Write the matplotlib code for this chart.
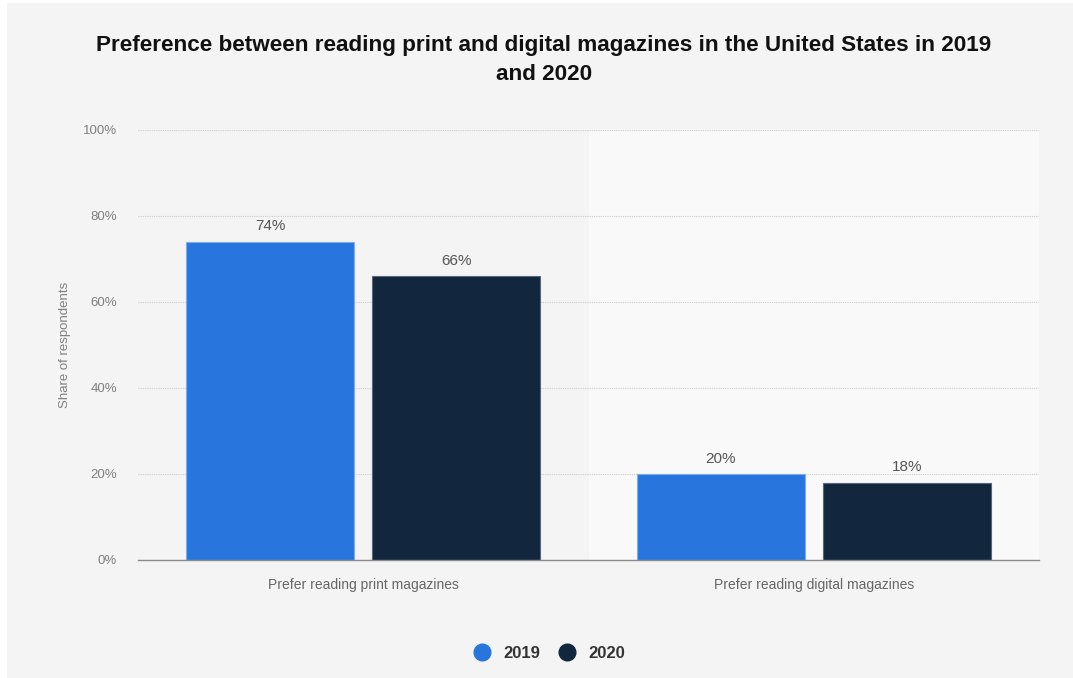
import matplotlib
matplotlib.use("Agg")
import matplotlib.pyplot as plt
from matplotlib.lines import Line2D
from matplotlib.patches import Rectangle
import numpy as np

plt.rcParams['font.family'] = ['Liberation Sans', 'DejaVu Sans']

categories = ["Prefer reading print magazines", "Prefer reading digital magazines"]
years = ["2019", "2020"]
share_2019 = [74, 20]
share_2020 = [66, 18]
y_ticks = [0, 20, 40, 60, 80, 100]

colors = {"2019": "#2775dd", "2020": "#12263d"}
edge_colors = {"2019": "#7eaef0", "2020": "#56677a"}
bg = "#f4f4f4"

W, H = 1073, 678
fig = plt.figure(figsize=(W / 100, H / 100), dpi=100)
fig.patch.set_facecolor("white")
fig.patches.append(Rectangle((7 / W, 0), 1 - 7 / W, 1 - 3 / H,
                             transform=fig.transFigure, facecolor=bg,
                             edgecolor="none", zorder=-10))

ax = fig.add_axes([138 / W, 118 / H, 901 / W, 430 / H])
ax.set_facecolor(bg)

x = np.arange(len(categories))
bar_w = 0.373
gap = 0.04
offsets = {"2019": -(bar_w / 2 + gap / 2), "2020": bar_w / 2 + gap / 2}
series = {"2019": share_2019, "2020": share_2020}

# lighter band behind the second category
ax.axvspan(0.5, 1.5, facecolor="#f9f9f9", edgecolor="none", zorder=0)

for yr in years:
    bars = ax.bar(x + offsets[yr], series[yr], width=bar_w, color=colors[yr],
                  edgecolor=edge_colors[yr], linewidth=0.8, zorder=3)
    for rect, v in zip(bars, series[yr]):
        ax.annotate(f"{v}%", (rect.get_x() + rect.get_width() / 2, v),
                    xytext=(0, 6), textcoords="offset points",
                    ha="center", va="bottom", fontsize=11, color="#555555")

ax.set_xlim(-0.5, 1.5)
ax.set_ylim(0, 100)
ax.set_yticks(y_ticks)
ax.set_yticklabels([f"{t}%" for t in y_ticks])
ax.set_xticks(x)
ax.set_xticklabels(categories)

ax.grid(axis="y", linestyle=(0, (1, 1)), color="#cccccc", linewidth=0.8, zorder=1)
ax.set_axisbelow(True)
for s in ["top", "right", "left"]:
    ax.spines[s].set_visible(False)
ax.spines["bottom"].set_color("#8a8a8a")
ax.spines["bottom"].set_linewidth(1.0)
ax.spines["bottom"].set_zorder(4)

ax.tick_params(axis="y", length=0, pad=15, labelsize=9.5, labelcolor="#808080")
ax.tick_params(axis="x", length=0, pad=13, labelsize=10, labelcolor="#666666")
ax.set_ylabel("Share of respondents", fontsize=9.5, color="#808080", labelpad=9)

title_size = 16.2
fig.text(544 / W, 1 - 45 / H,
         "Preference between reading print and digital magazines in the United States in 2019",
         ha="center", va="center", fontsize=title_size, fontweight="bold", color="#111111")
fig.text(544 / W, 1 - 75 / H, "and 2020",
         ha="center", va="center", fontsize=title_size, fontweight="bold", color="#111111")

handles = [Line2D([], [], marker="o", linestyle="", markersize=12,
                  markerfacecolor=colors[yr], markeredgecolor=colors[yr]) for yr in years]
leg = fig.legend(handles, years, loc="center", bbox_to_anchor=(545 / W, 1 - 653 / H),
                 ncol=2, frameon=False, handletextpad=0.3, columnspacing=0.6,
                 prop={"size": 12, "weight": "bold"})
for t in leg.get_texts():
    t.set_color("#333333")

fig.savefig("out.png", dpi=100, facecolor=fig.get_facecolor())
